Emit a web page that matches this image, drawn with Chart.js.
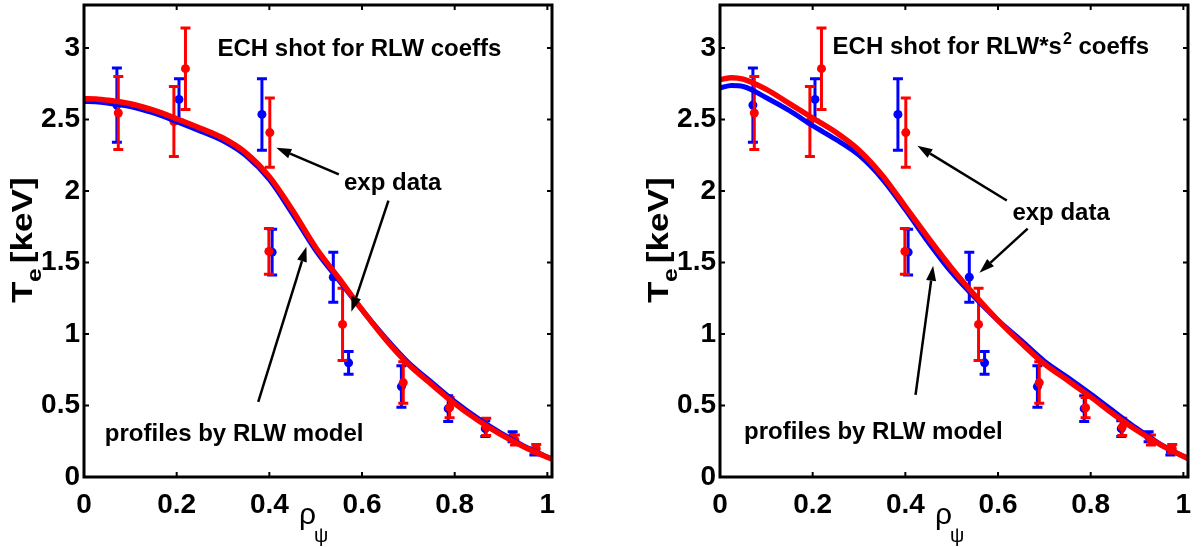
<!DOCTYPE html>
<html>
<head>
<meta charset="utf-8">
<script src="https://cdn.jsdelivr.net/npm/chart.js@4.4.1/dist/chart.umd.min.js"></script>
<style>
  html, body { margin: 0; padding: 0; background: #fff; }
  #wrap { position: relative; width: 1203px; height: 547px; overflow: hidden; }
  canvas { position: absolute; top: 0; }
</style>
</head>
<body>
<div id="wrap">
  <canvas id="left" width="600" height="547" style="left:0"></canvas>
  <canvas id="right" width="603" height="547" style="left:600px"></canvas>
</div>
<script>
const FONT = '"Liberation Sans", Arial, Helvetica, sans-serif';

// axis ticks
const xTicks = [0, 0.2, 0.4, 0.6, 0.8, 1];
const xTickLabels = ['0', '0.2', '0.4', '0.6', '0.8', '1'];
const yTicks = [0, 0.5, 1, 1.5, 2, 2.5, 3];
const yTickLabels = ['0', '0.5', '1', '1.5', '2', '2.5', '3'];

// measured Te with error bars (blue channel)
const blueRho = [0.071, 0.205, 0.384, 0.406, 0.538, 0.571, 0.685, 0.786, 0.866, 0.925, 0.972];
const blueTe  = [2.60, 2.64, 2.535, 1.572, 1.397, 0.798, 0.632, 0.478, 0.338, 0.282, 0.178];
const blueErr = [0.26, 0.145, 0.25, 0.16, 0.175, 0.08, 0.145, 0.09, 0.055, 0.035, 0.025];

// measured Te with error bars (red channel)
const redRho = [0.074, 0.194, 0.219, 0.401, 0.399, 0.558, 0.689, 0.789, 0.868, 0.930, 0.976];
const redTe  = [2.545, 2.485, 2.855, 2.408, 1.577, 1.067, 0.66, 0.485, 0.35, 0.258, 0.198];
const redErr = [0.255, 0.245, 0.285, 0.242, 0.16, 0.253, 0.145, 0.07, 0.06, 0.035, 0.03];

// model profile sample positions
const rhoGrid = [0, 0.025, 0.05, 0.1, 0.15, 0.2, 0.25, 0.3, 0.35, 0.4, 0.45, 0.5,
                 0.55, 0.6, 0.65, 0.7, 0.75, 0.8, 0.85, 0.9, 0.95, 1.0, 1.01];

// RLW model profiles
const rlwRed  = [2.645, 2.643, 2.635, 2.61, 2.565, 2.505, 2.44, 2.37, 2.265, 2.10, 1.865, 1.605,
                 1.39, 1.17, 0.965, 0.788, 0.648, 0.513, 0.397, 0.296, 0.21, 0.138, 0.125];
const rlwBlue = [2.625, 2.623, 2.615, 2.59, 2.545, 2.485, 2.42, 2.35, 2.245, 2.08, 1.84, 1.585,
                 1.375, 1.168, 0.975, 0.80, 0.663, 0.528, 0.41, 0.306, 0.216, 0.14, 0.127];

// RLW*s^2 model profiles
const rlwS2Red  = [2.778, 2.792, 2.782, 2.71, 2.61, 2.51, 2.41, 2.285, 2.11, 1.89, 1.67, 1.46,
                   1.27, 1.095, 0.937, 0.791, 0.676, 0.56, 0.437, 0.325, 0.227, 0.145, 0.13];
const rlwS2Blue = [2.72, 2.737, 2.73, 2.652, 2.561, 2.456, 2.36, 2.25, 2.085, 1.87, 1.64, 1.43,
                   1.255, 1.095, 0.955, 0.81, 0.697, 0.58, 0.458, 0.338, 0.23, 0.145, 0.13];

const toXY = (xs, ys) => xs.map((v, i) => ({ x: v, y: ys[i] }));

function drawArrow(ctx, x1, y1, x2, y2) {
  const a = Math.atan2(y2 - y1, x2 - x1);
  const L = 15, W = 5;
  const bx = x2 - L * Math.cos(a), by = y2 - L * Math.sin(a);
  ctx.beginPath(); ctx.moveTo(x1, y1); ctx.lineTo(bx, by); ctx.stroke();
  ctx.beginPath();
  ctx.moveTo(x2, y2);
  ctx.lineTo(bx + W * Math.sin(a), by - W * Math.cos(a));
  ctx.lineTo(bx - W * Math.sin(a), by + W * Math.cos(a));
  ctx.closePath(); ctx.fill();
}

// frame, inward ticks, error bars, axis titles and annotations
const decor = {
  id: 'decor',
  beforeDatasetDraw(chart, args) {
    const ds = chart.data.datasets[args.index];
    if (!ds.errors) return;
    const { x, y } = chart.scales;
    const ctx = chart.ctx;
    ctx.save();
    ctx.strokeStyle = ds.backgroundColor;
    ctx.lineWidth = 3;
    ds.data.forEach((p, i) => {
      const e = ds.errors[i];
      const px = x.getPixelForValue(p.x);
      const t = y.getPixelForValue(p.y + e), b = y.getPixelForValue(p.y - e);
      ctx.beginPath();
      ctx.moveTo(px, t); ctx.lineTo(px, b);
      ctx.moveTo(px - 5, t); ctx.lineTo(px + 5, t);
      ctx.moveTo(px - 5, b); ctx.lineTo(px + 5, b);
      ctx.stroke();
    });
    ctx.restore();
  },
  afterDraw(chart) {
    const ctx = chart.ctx;
    const ca = chart.chartArea;
    const { x, y } = chart.scales;
    const cfg = chart.options.plugins.decor;
    ctx.save();
    ctx.strokeStyle = '#000'; ctx.fillStyle = '#000';

    // inward tick marks on all four sides
    ctx.lineWidth = 2;
    ctx.beginPath();
    yTicks.forEach(v => {
      const py = y.getPixelForValue(v);
      ctx.moveTo(ca.left, py); ctx.lineTo(ca.left + 5, py);
      ctx.moveTo(ca.right, py); ctx.lineTo(ca.right - 5, py);
    });
    xTicks.forEach(v => {
      const px = x.getPixelForValue(v);
      ctx.moveTo(px, ca.bottom); ctx.lineTo(px, ca.bottom - 5);
      ctx.moveTo(px, ca.top); ctx.lineTo(px, ca.top + 5);
    });
    ctx.stroke();

    // box
    ctx.lineWidth = 3;
    ctx.strokeRect(ca.left, ca.top, ca.right - ca.left, ca.bottom - ca.top);

    // y axis title: T_e [keV]
    ctx.save();
    ctx.translate(ca.left - 52, ca.bottom - 174);
    ctx.rotate(-Math.PI / 2);
    ctx.scale(1.17, 1);
    ctx.textBaseline = 'alphabetic'; ctx.textAlign = 'left';
    ctx.font = 'bold 30px ' + FONT;
    ctx.fillText('T', 0, 0);
    ctx.font = 'bold 21px ' + FONT;
    ctx.fillText('e', 18, 9);
    ctx.font = 'bold 30px ' + FONT;
    ctx.fillText('[keV]', 34, 0);
    ctx.restore();

    // x axis title: rho_psi
    ctx.textBaseline = 'alphabetic'; ctx.textAlign = 'left';
    ctx.font = '30px ' + FONT;
    const rx = ca.left + 215, ry = ca.bottom + 47;
    ctx.fillText('\u03C1', rx, ry);
    ctx.font = '20px ' + FONT;
    ctx.fillText('\u03C8', rx + 15, ry + 18);

    // text annotations
    ctx.font = 'bold 24px ' + FONT;
    cfg.texts.forEach(t => {
      let px = x.getPixelForValue(t.x);
      const py = y.getPixelForValue(t.y);
      t.parts.forEach(part => {
        if (part.sup) {
          ctx.font = 'bold 16px ' + FONT;
          ctx.fillText(part.s, px + 1, py - 10);
          px += ctx.measureText(part.s).width + 1;
          ctx.font = 'bold 24px ' + FONT;
        } else {
          ctx.fillText(part.s, px, py);
          px += ctx.measureText(part.s).width;
        }
      });
    });

    // arrows
    ctx.lineWidth = 2.5;
    cfg.arrows.forEach(a => {
      drawArrow(ctx, x.getPixelForValue(a[0]), y.getPixelForValue(a[1]),
                x.getPixelForValue(a[2]), y.getPixelForValue(a[3]));
    });
    ctx.restore();
  }
};

function makePanel(id, redCurve, blueCurve, axisWidth, padRight, decorCfg) {
  const ctx = document.getElementById(id).getContext('2d');
  return new Chart(ctx, {
    type: 'scatter',
    data: {
      datasets: [
        { type: 'line', data: toXY(rhoGrid, redCurve), borderColor: '#ff0000', borderWidth: 5.5,
          pointRadius: 0, fill: false, cubicInterpolationMode: 'monotone', borderCapStyle: 'round' },
        { type: 'line', data: toXY(rhoGrid, blueCurve), borderColor: '#0000ff', borderWidth: 5,
          pointRadius: 0, fill: false, cubicInterpolationMode: 'monotone', borderCapStyle: 'round' },
        { data: toXY(redRho, redTe), errors: redErr, backgroundColor: '#ff0000',
          pointRadius: 4.5, pointBorderWidth: 0, pointBorderColor: '#ff0000' },
        { data: toXY(blueRho, blueTe), errors: blueErr, backgroundColor: '#0000ff',
          pointRadius: 4.5, pointBorderWidth: 0, pointBorderColor: '#0000ff' }
      ]
    },
    options: {
      responsive: false,
      animation: false,
      events: [],
      layout: { padding: { top: 5, right: padRight, left: 0, bottom: 0 } },
      plugins: { legend: { display: false }, tooltip: { enabled: false }, decor: decorCfg },
      scales: {
        x: {
          type: 'linear', min: 0, max: 1.01,
          grid: { display: false, drawTicks: false },
          border: { display: false },
          afterBuildTicks: s => { s.ticks = xTicks.map(v => ({ value: v })); },
          afterFit: s => { s.height = 70; },
          ticks: {
            autoSkip: false, maxRotation: 0, padding: 11, color: '#000',
            font: { family: FONT, size: 28, weight: 'bold' },
            callback: v => xTickLabels[xTicks.indexOf(v)]
          }
        },
        y: {
          type: 'linear', min: 0, max: 3.3,
          grid: { display: false, drawTicks: false },
          border: { display: false },
          afterBuildTicks: s => { s.ticks = yTicks.map(v => ({ value: v })); },
          afterFit: s => { s.width = axisWidth; s.paddingTop = 0; s.paddingBottom = 0; },
          ticks: {
            autoSkip: false, padding: 4, color: '#000',
            font: { family: FONT, size: 28, weight: 'bold' },
            callback: v => yTickLabels[yTicks.indexOf(v)]
          }
        }
      }
    },
    plugins: [decor]
  });
}

makePanel('left', rlwRed, rlwBlue, 84, 48, {
  texts: [
    { x: 0.288, y: 2.946, parts: [{ s: 'ECH shot for RLW coeffs' }] },
    { x: 0.561, y: 2.008, parts: [{ s: 'exp data' }] },
    { x: 0.045, y: 0.252, parts: [{ s: 'profiles by RLW model' }] }
  ],
  arrows: [
    [0.550, 2.116, 0.415, 2.302],
    [0.657, 1.933, 0.577, 1.155],
    [0.376, 0.525, 0.480, 1.610]
  ]
});

makePanel('right', rlwS2Red, rlwS2Blue, 120, 15, {
  texts: [
    { x: 0.243, y: 2.960, parts: [{ s: 'ECH shot for RLW*s' }, { s: '2', sup: true }, { s: ' coeffs' }] },
    { x: 0.631, y: 1.798, parts: [{ s: 'exp data' }] },
    { x: 0.052, y: 0.266, parts: [{ s: 'profiles by RLW model' }] }
  ],
  arrows: [
    [0.619, 1.933, 0.426, 2.316],
    [0.664, 1.737, 0.560, 1.428],
    [0.422, 0.574, 0.460, 1.477]
  ]
});
</script>
</body>
</html>
